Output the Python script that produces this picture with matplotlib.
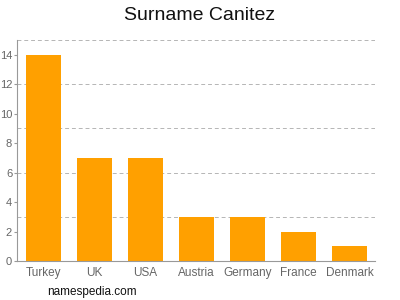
import matplotlib
matplotlib.use('Agg')
from matplotlib import pyplot as plt

countries = ['Turkey', 'UK', 'USA', 'Austria', 'Germany', 'France', 'Denmark']
counts = [14, 7, 7, 3, 3, 2, 1]
yticks = [0, 2, 4, 6, 8, 10, 12, 14]
grid_levels = [3, 6, 9, 12, 15]


def main():
    plt.rcParams['font.family'] = ['Liberation Sans', 'DejaVu Sans']
    fig = plt.figure(figsize=(4, 3), dpi=100)
    ax = fig.add_axes([0.0425, 0.13, 0.895, 0.7367])

    ax.bar(range(len(countries)), counts, width=0.69, color='#ffa000', zorder=2)
    for g in grid_levels:
        ax.axhline(g, color='#b5b5b5', linestyle=(0, (4, 3)), linewidth=0.7, zorder=1)

    ax.set_xlim(-0.52, len(countries) - 0.5)
    ax.set_ylim(0, 15)
    ax.set_yticks(yticks)
    ax.set_xticks(range(len(countries)))
    ax.set_xticklabels(countries)

    for side in ['top', 'right']:
        ax.spines[side].set_visible(False)
    for side in ['left', 'bottom']:
        ax.spines[side].set_color('#999999')
        ax.spines[side].set_linewidth(0.8)
    ax.tick_params(axis='both', colors='#999999', labelcolor='#666666', labelsize=8.5,
                   length=3, width=0.8)
    ax.tick_params(axis='y', pad=1, labelsize=8, length=2.5)
    ax.tick_params(axis='x', length=0, pad=4)

    fig.text(0.5, 0.95, 'Surname Canitez', ha='center', va='center', fontsize=14, color='#111111')
    fig.text(0.118, 0.027, 'namespedia.com', ha='left', va='center', fontsize=8.5, color='#111111')

    fig.savefig('out.png', dpi=100)


if __name__ == '__main__':
    main()
